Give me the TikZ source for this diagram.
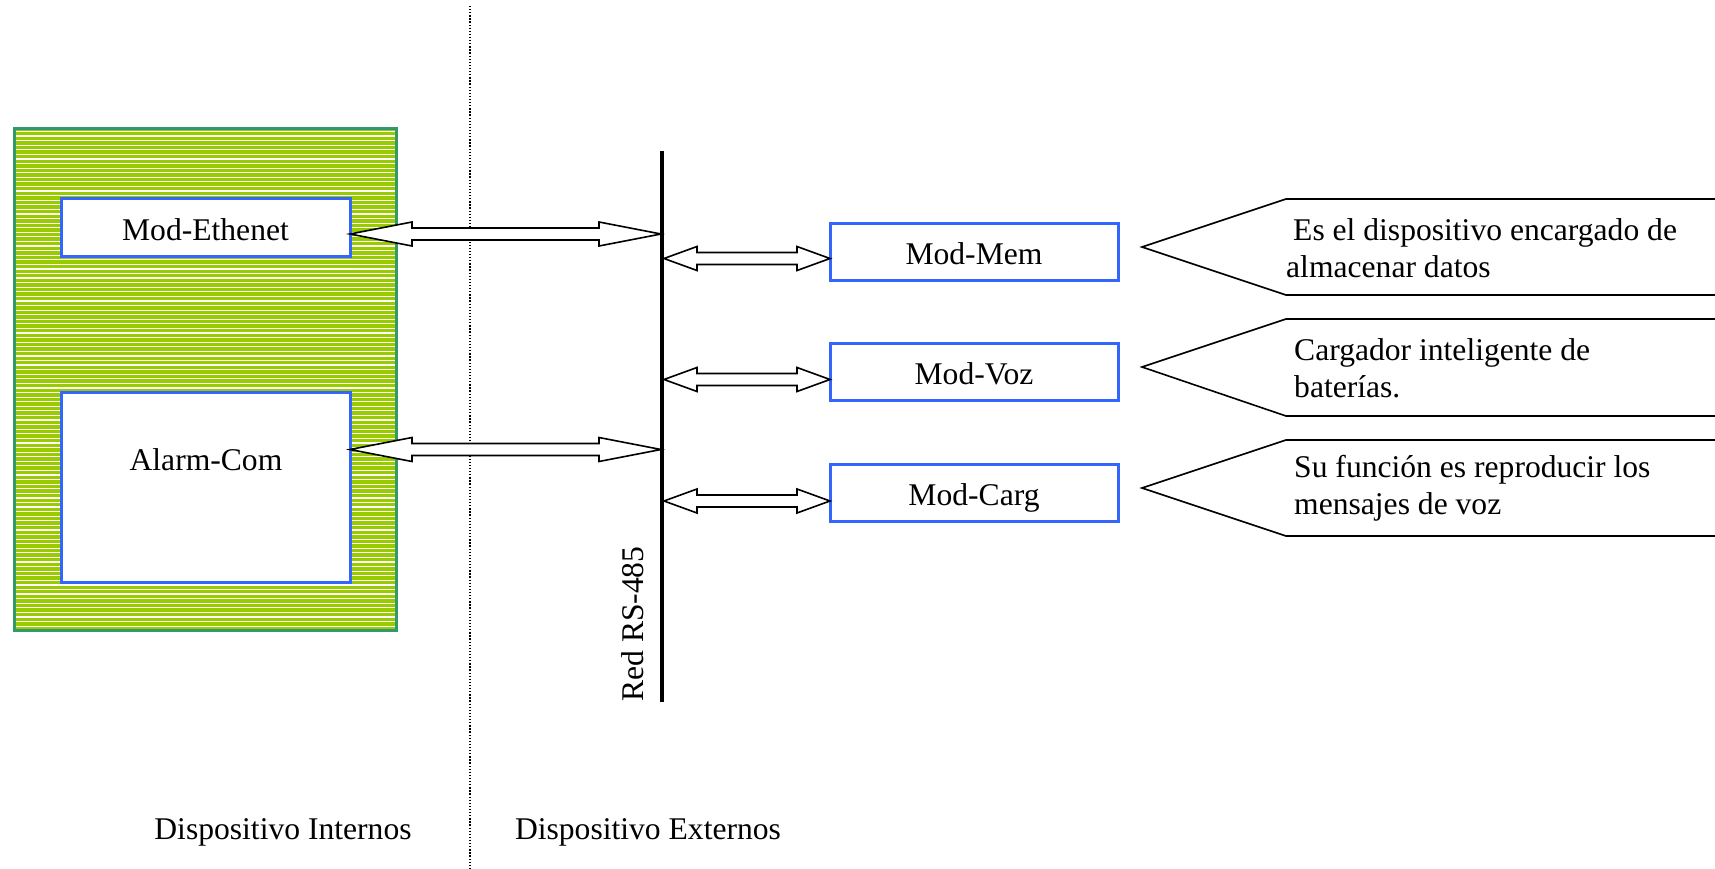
\documentclass[tikz,border=0pt]{standalone}
\usepackage{fontspec}
\setmainfont{Liberation Serif}
\usetikzlibrary{calc}
\definecolor{modblue}{RGB}{51,102,255}
\definecolor{boxgreen}{RGB}{153,204,0}
\definecolor{boxedge}{RGB}{51,153,102}
\newcommand\dblarr[3]{%
  \draw[dblarrow] let \p1=(#1), \p2=(#2) in
   (\x1,\y1) -- (\x1+#3pt,\y1+12pt) -- (\x1+#3pt,\y1+6pt) -- (\x2-#3pt,\y1+6pt)
   -- (\x2-#3pt,\y1+12pt) -- (\x2,\y1) -- (\x2-#3pt,\y1-12pt) -- (\x2-#3pt,\y1-6pt)
   -- (\x1+#3pt,\y1-6pt) -- (\x1+#3pt,\y1-12pt) -- cycle;}
\begin{document}
\begin{tikzpicture}[x=1pt,y=-1pt,
  every node/.style={font=\fontsize{31.6}{37}\selectfont},
  modbox/.style={draw=modblue, line width=3pt, fill=white, inner sep=0pt, text height=25.6pt, text depth=0pt},
  dblarrow/.style={draw=black, line width=1.6pt, fill=white, line join=miter},
  callout/.style={draw=black, line width=1.6pt},
  txt/.style={inner sep=0pt, align=left}]
\useasboundingbox (0,0) rectangle (1715,869);
% green container
\fill[boxgreen] (13,127) rectangle (398,632);
\foreach \i in {0,...,108}
  \draw[white, line width=1.2pt] (16,131.5+\i*4.58) -- (396,131.5+\i*4.58);
\draw[boxedge, line width=3pt] (14.5,128.5) rectangle (396.5,630.5);
% dotted separator
\coordinate (sepT) at (470,6);
\coordinate (sepB) at (470,869);
\draw[line width=1.3pt, dash pattern=on 1.3pt off 1.8pt] (sepT) -- (sepB);
% inner boxes
\node[modbox, minimum width=289pt, minimum height=57pt] (eth) at (205.5,227.5) {Mod-Ethenet};
\node[modbox, minimum width=289pt, minimum height=190pt] (alarm) at (205.5,487) {};
\node[inner sep=0pt] (alarmtxt) at (206,460) {Alarm-Com};
% bus
\coordinate (busT) at (662,151);
\coordinate (busB) at (662,702);
\draw[line width=4pt] (busT) -- (busB);
\node[inner sep=0pt, rotate=90, anchor=base west] (buslbl) at (643,702) {Red RS-485};
% external modules
\node[modbox, minimum width=288pt, minimum height=57pt] (mem) at (974,251.5) {Mod-Mem};
\node[modbox, minimum width=288pt, minimum height=57pt] (voz) at (974,371.5) {Mod-Voz};
\node[modbox, minimum width=288pt, minimum height=57pt] (carg) at (974,492.5) {Mod-Carg};
% arrow end points
\coordinate (e1) at (350,234);   \coordinate (b1) at (661,234);
\coordinate (e2) at (350,449.5); \coordinate (b2) at (661,449.5);
\coordinate (b3) at (664,258.5); \coordinate (m3) at (830,258.5);
\coordinate (b4) at (664,379.5); \coordinate (m4) at (830,379.5);
\coordinate (b5) at (664,501);   \coordinate (m5) at (830,501);
\dblarr{e1}{b1}{62}
\dblarr{e2}{b2}{62}
\dblarr{b3}{m3}{33}
\dblarr{b4}{m4}{33}
\dblarr{b5}{m5}{33}
% callouts
\foreach \t/\m/\b [count=\k] in {199/247/295, 319/367/416, 440/488/536}{
  \coordinate (ctip\k) at (1142,\m);
  \draw[callout] (1720,\t) -- (1286,\t) -- (ctip\k) -- (1286,\b) -- (1720,\b);
}
\node[txt, anchor=west] (c1txt) at (1286,248) {\hspace*{7pt}Es el dispositivo encargado de\\almacenar datos};
\node[txt, anchor=west] (c2txt) at (1294,368) {Cargador inteligente de\\baterías.};
\node[txt, anchor=west] (c3txt) at (1294,488.5) {Su función es reproducir los\\mensajes de voz};
% bottom labels
\node[inner sep=0pt] (intl) at (283,832) {Dispositivo Internos};
\node[inner sep=0pt] (extl) at (648,832) {Dispositivo Externos};
\end{tikzpicture}
\end{document}
